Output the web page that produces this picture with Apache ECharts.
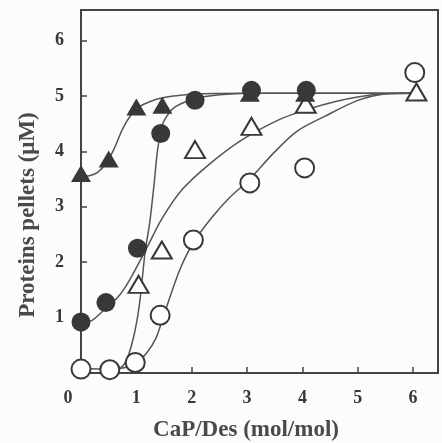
<!DOCTYPE html>
<html>
<head>
<meta charset="utf-8">
<title>Proteins pellets</title>
<script src="https://cdn.jsdelivr.net/npm/echarts@6/dist/echarts.min.js"></script>
<style>
  html, body { margin: 0; padding: 0; background: #fcfcfc; }
  #chart { width: 442px; height: 443px; }
</style>
</head>
<body>
<div id="chart"></div>
<script>
// 刻度
var xTicks = [0, 1, 2, 3, 4, 5, 6];
var yTicks = [1, 2, 3, 4, 5, 6];

// 实心三角
var filledTriX = [0, 0.5, 1.0, 1.47, 3.05, 4.05];
var filledTriY = [3.6, 3.86, 4.8, 4.83, 5.05, 5.05];
// 实心圆
var filledCircX = [0, 0.45, 1.02, 1.44, 2.06, 3.08, 4.07];
var filledCircY = [0.92, 1.27, 2.25, 4.32, 4.92, 5.1, 5.1];
// 空心三角
var openTriX = [1.04, 1.46, 2.06, 3.08, 4.06, 6.06];
var openTriY = [1.6, 2.22, 4.03, 4.45, 4.85, 5.07];
// 空心圆
var openCircX = [0, 0.52, 0.98, 1.43, 2.03, 3.05, 4.04, 6.03];
var openCircY = [0.07, 0.06, 0.19, 1.04, 2.4, 3.43, 3.7, 5.42];

// 拟合曲线
var curveAX = [0, 0.15, 0.3, 0.45, 0.6, 0.75, 0.9, 1.05, 1.25, 1.5, 2.0, 3.0, 6.0];
var curveAY = [3.55, 3.56, 3.62, 3.78, 4.05, 4.4, 4.65, 4.8, 4.9, 4.97, 5.03, 5.05, 5.05];
var curveBX = [0, 0.2, 0.45, 0.65, 0.8, 1.0, 1.2, 1.46, 1.82, 2.3, 2.9, 3.6, 4.1, 4.6, 5.0, 5.45, 6.0];
var curveBY = [0.9, 0.95, 1.17, 1.35, 1.55, 1.9, 2.28, 2.78, 3.3, 3.75, 4.2, 4.58, 4.76, 4.9, 4.98, 5.04, 5.05];
var curveCX = [0.62, 0.75, 0.85, 0.95, 1.02, 1.07, 1.16, 1.24, 1.32, 1.38, 1.44, 1.5, 1.7, 2.06, 2.5, 3.0, 6.0];
var curveCY = [0.06, 0.12, 0.3, 0.65, 1.0, 1.35, 2.2, 2.7, 3.4, 4.0, 4.35, 4.55, 4.8, 4.95, 5.02, 5.05, 5.05];
var curveDX = [0, 0.55, 0.8, 1.0, 1.2, 1.35, 1.45, 1.6, 1.8, 2.03, 2.36, 2.69, 3.0, 3.5, 3.9, 4.4, 5.0, 5.45, 6.0];
var curveDY = [0.08, 0.07, 0.1, 0.18, 0.38, 0.62, 0.9, 1.35, 1.9, 2.35, 2.8, 3.17, 3.45, 3.99, 4.36, 4.63, 4.92, 5.03, 5.05];

function pairs(xs, ys) {
	var out = [];
	for (var i = 0; i < xs.length; i++) {
		out.push([xs[i], ys[i]]);
	}
	return out;
}

var ink = '#383838';
var serif = '"Liberation Serif", "DejaVu Serif", serif';

function curve(xs, ys) {
	return {
		type: 'line',
		data: pairs(xs, ys),
		smooth: 0.3,
		showSymbol: false,
		silent: true,
		z: 1,
		lineStyle: { color: '#555', width: 1.5 }
	};
}

function marks(xs, ys, symbol, size, filled, z) {
	return {
		type: 'scatter',
		data: pairs(xs, ys),
		symbol: symbol,
		symbolSize: size,
		z: z,
		itemStyle: {
			color: filled ? ink : '#ffffff',
			borderColor: ink,
			borderWidth: filled ? 0 : 2,
			opacity: 1
		}
	};
}

var myChart = echarts.init(document.getElementById('chart'));

var option = {
	backgroundColor: '#fcfcfc',
	animation: false,
	grid: {
		left: 81, top: 10, right: 4, bottom: 70,
		show: true,
		borderColor: '#444',
		borderWidth: 2
	},
	xAxis: {
		type: 'value',
		min: 0,
		max: 6.45,
		interval: 1,
		splitLine: { show: false },
		axisLine: { lineStyle: { color: '#444', width: 2 } },
		axisTick: { inside: true, length: 6, lineStyle: { color: '#444', width: 1.5 } },
		axisLabel: {
			margin: 16,
			color: ink,
			fontFamily: serif,
			fontWeight: 'bold',
			fontSize: 18,
			formatter: function (v) {
				if (xTicks.indexOf(v) < 0) return '';
				return v === 0 ? '{z|0}' : String(v);
			},
			rich: {
				z: { padding: [0, 26, 0, 0], color: ink, fontFamily: serif, fontWeight: 'bold', fontSize: 18 }
			}
		}
	},
	yAxis: {
		type: 'value',
		min: 0,
		max: 6.55,
		interval: 1,
		splitLine: { show: false },
		axisLine: { lineStyle: { color: '#444', width: 2 } },
		axisTick: { inside: true, length: 6, lineStyle: { color: '#444', width: 1.5 } },
		axisLabel: {
			margin: 17,
			color: ink,
			fontFamily: serif,
			fontWeight: 'bold',
			fontSize: 18,
			formatter: function (v) {
				return yTicks.indexOf(v) < 0 ? '' : String(v);
			}
		}
	},
	graphic: [
		{
			type: 'text',
			x: 246, y: 430,
			style: {
				text: 'CaP/Des (mol/mol)',
				font: 'bold 23px ' + serif,
				fill: '#4a4a4a',
				textAlign: 'center',
				textVerticalAlign: 'middle'
			}
		},
		{
			type: 'text',
			x: 28, y: 215,
			rotation: Math.PI / 2,
			style: {
				text: 'Proteins pellets (\u03bcM)',
				font: 'bold 23px ' + serif,
				fill: '#4a4a4a',
				textAlign: 'center',
				textVerticalAlign: 'middle'
			}
		}
	],
	series: [
		curve(curveAX, curveAY),
		curve(curveBX, curveBY),
		curve(curveCX, curveCY),
		curve(curveDX, curveDY),
		marks(openCircX, openCircY, 'circle', 19, false, 3),
		marks(openTriX, openTriY, 'triangle', [20, 17], false, 4),
		marks(filledTriX, filledTriY, 'triangle', [20, 17], true, 5),
		marks(filledCircX, filledCircY, 'circle', 19, true, 6)
	]
};

myChart.setOption(option);
</script>
</body>
</html>
